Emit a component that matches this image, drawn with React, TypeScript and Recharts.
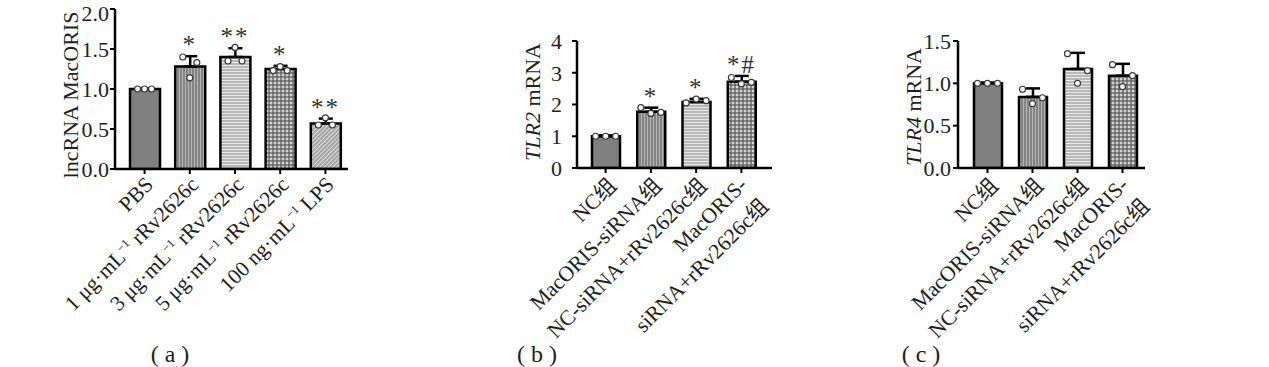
import { Bar, Cell, ComposedChart, ErrorBar, Scatter, XAxis, YAxis } from 'recharts'

const FONT = '"Liberation Serif", "Times New Roman", "Noto Sans CJK SC", serif'
const INK = '#231f20'

// panel (a)
const catsA = ['PBS', '1 μg·mL⁻¹ rRv2626c', '3 μg·mL⁻¹ rRv2626c', '5 μg·mL⁻¹ rRv2626c', '100 ng·mL⁻¹ LPS']
const meanA = [1.0, 1.28, 1.4, 1.25, 0.57]
const sdA = [0.01, 0.13, 0.11, 0.04, 0.06]
const leftA = [1.0, 1.4, 1.35, 1.23, 0.55]
const midA = [1.0, 1.14, 1.52, 1.28, 0.64]
const rightA = [1.0, 1.33, 1.35, 1.23, 0.55]
const sigA = ['', '*', '**', '*', '**']
const ticksA = [0, 0.5, 1.0, 1.5, 2.0]

// panel (b)
const catsB = ['NC组', 'MacORIS-siRNA组', 'NC-siRNA+rRv2626c组', 'MacORIS-\nsiRNA+rRv2626c组']
const meanB = [1.0, 1.77, 2.08, 2.72]
const sdB = [0.03, 0.13, 0.1, 0.18]
const leftB = [1.0, 1.9, 2.05, 2.85]
const midB = [1.0, 1.72, 2.17, 2.65]
const rightB = [1.0, 1.75, 2.12, 2.7]
const sigB = ['', '*', '*', '*#']
const ticksB = [0, 1, 2, 3, 4]

// panel (c)
const catsC = ['NC组', 'MacORIS-siRNA组', 'NC-siRNA+rRv2626c组', 'MacORIS-\nsiRNA+rRv2626c组']
const meanC = [1.0, 0.84, 1.17, 1.09]
const sdC = [0.01, 0.1, 0.19, 0.14]
const leftC = [1.0, 0.93, 1.35, 1.22]
const midC = [1.0, 0.76, 1.0, 0.96]
const rightC = [1.0, 0.83, 1.15, 1.09]
const sigC = ['', '', '', '']
const ticksC = [0, 0.5, 1.0, 1.5]

function rows(cats: string[], mean: number[], sd: number[], l: number[], m: number[], r: number[], sig: string[]) {
  return cats.map((name, i) => ({
    name,
    mean: mean[i],
    err: [0, sd[i]],
    l: l[i],
    m: m[i],
    r: r[i],
    top: mean[i] + sd[i],
    sig: sig[i],
  }))
}

function Patterns({ id }: { id: string }) {
  return (
    <defs>
      <pattern id={`${id}-v`} width="3" height="3" patternUnits="userSpaceOnUse">
        <rect width="3" height="3" fill="#b4b4b4" />
        <line x1="1" y1="0" x2="1" y2="3" stroke="#666" strokeWidth="1.2" />
      </pattern>
      <pattern id={`${id}-h`} width="3" height="3" patternUnits="userSpaceOnUse">
        <rect width="3" height="3" fill="#e8e8e8" />
        <line x1="0" y1="1" x2="3" y2="1" stroke="#999" strokeWidth="1.2" />
      </pattern>
      <pattern id={`${id}-g`} width="4" height="4" patternUnits="userSpaceOnUse">
        <rect width="4" height="4" fill="#d4d4d4" />
        <line x1="0" y1="1" x2="4" y2="1" stroke="#555" strokeWidth="1.2" />
        <line x1="1" y1="0" x2="1" y2="4" stroke="#555" strokeWidth="1.2" />
      </pattern>
      <pattern id={`${id}-d`} width="3" height="3" patternUnits="userSpaceOnUse" patternTransform="rotate(45)">
        <rect width="3" height="3" fill="#dcdcdc" />
        <line x1="1" y1="0" x2="1" y2="3" stroke="#777" strokeWidth="1.1" />
      </pattern>
    </defs>
  )
}

function withSup(s: string) {
  const parts = s.split('⁻¹')
  return parts.map((p, i) => (
    <tspan key={i}>
      {p}
      {i < parts.length - 1 && (
        <tspan dy={-8} fontSize={12}>
          {'−1'}
        </tspan>
      )}
      {i < parts.length - 1 && <tspan dy={8}>{' '}</tspan>}
    </tspan>
  ))
}

function XTick(props: any) {
  const { x, y, payload, first } = props
  const lines = String(payload.value).split('\n')
  const multi = lines.length > 1
  return (
    <g transform={`translate(${x},${y})`}>
      <text transform="rotate(-45)" textAnchor="end" fontSize={21.5} fontFamily={FONT} fill={INK}>
        {lines.map((ln, i) => (
          <tspan key={i} x={multi ? -3 : 0} dy={i === 0 ? (multi ? first - 4 : first) : 30}>
            {withSup(ln)}
          </tspan>
        ))}
      </text>
    </g>
  )
}

const dot = (dx: number) => (p: any) => (
  <circle cx={p.cx + dx} cy={p.cy} r={3} fill="#fff" stroke="#3a3a3a" strokeWidth={1.2} />
)

const star = (p: any) =>
  p.payload.sig ? (
    <text x={p.cx} y={p.cy - 3} textAnchor="middle" fontSize={25} fontFamily={FONT} fill="#333" letterSpacing={2}>
      {p.payload.sig}
    </text>
  ) : (
    <g />
  )

type PanelProps = {
  id: string
  data: any[]
  left: number
  width: number
  axisW: number
  top: number
  right: number
  bottom: number
  domain: [number, number]
  ticks: number[]
  fixed: number
  padL: number
  padR: number
  barSize: number
  tickGap: number
  first: number
  spread: number
}

function Panel(p: PanelProps) {
  const fills = ['#808080', `url(#${p.id}-v)`, `url(#${p.id}-h)`, `url(#${p.id}-g)`, `url(#${p.id}-d)`]
  return (
    <div style={{ position: 'absolute', left: p.left, top: 0 }}>
      <ComposedChart width={p.width} height={367} data={p.data} margin={{ top: p.top, right: p.right, bottom: 0, left: 0 }}>
        <Patterns id={p.id} />
        <XAxis
          dataKey="name"
          height={367 - p.bottom}
          padding={{ left: p.padL, right: p.padR }}
          axisLine={{ stroke: '#000', strokeWidth: 2.5 }}
          tickLine={{ stroke: '#000', strokeWidth: 2 }}
          tickSize={5}
          interval={0}
          tick={<XTick first={p.first} />}
        />
        <YAxis
          width={p.axisW}
          domain={p.domain}
          ticks={p.ticks}
          allowDataOverflow
          tickFormatter={(v: number) => v.toFixed(p.fixed)}
          axisLine={{ stroke: '#000', strokeWidth: 2.5 }}
          tickLine={{ stroke: '#000', strokeWidth: 2 }}
          tickSize={5}
          tickMargin={p.tickGap}
          tick={{ fontSize: 22, fontFamily: FONT, fill: INK }}
        />
        <Bar dataKey="mean" barSize={p.barSize} stroke="#000" strokeWidth={2.5} isAnimationActive={false}>
          {p.data.map((_, i) => (
            <Cell key={i} fill={fills[i]} />
          ))}
          <ErrorBar dataKey="err" direction="y" width={7} stroke="#000" strokeWidth={2.5} isAnimationActive={false} />
        </Bar>
        <Scatter dataKey="l" shape={dot(-p.spread)} isAnimationActive={false} />
        <Scatter dataKey="m" shape={dot(0)} isAnimationActive={false} />
        <Scatter dataKey="r" shape={dot(p.spread)} isAnimationActive={false} />
        <Scatter dataKey="top" shape={star} isAnimationActive={false} />
      </ComposedChart>
    </div>
  )
}

function YTitle({ x, y, italic, rest }: { x: number; y: number; italic?: string; rest: string }) {
  return (
    <text
      transform={`translate(${x},${y}) rotate(-90)`}
      textAnchor="middle"
      dominantBaseline="central"
      fontSize={22}
      fontFamily={FONT}
      fill={INK}
    >
      {italic && <tspan fontStyle="italic">{italic}</tspan>}
      {rest}
    </text>
  )
}

export default function App() {
  const dataA = rows(catsA, meanA, sdA, leftA, midA, rightA, sigA)
  const dataB = rows(catsB, meanB, sdB, leftB, midB, rightB, sigB)
  const dataC = rows(catsC, meanC, sdC, leftC, midC, rightC, sigC)
  return (
    <div style={{ position: 'absolute', left: 0, top: 0, width: 1269, height: 367, background: '#fff', overflow: 'hidden' }}>
      <Panel id="pa" data={dataA} left={0} width={400} axisW={115} top={9} right={52} bottom={169}
        domain={[0, 2]} ticks={ticksA} fixed={1} padL={7} padR={0} barSize={30} tickGap={1} first={14} spread={7} />
      <Panel id="pb" data={dataB} left={450} width={360} axisW={127} top={41} right={38} bottom={168}
        domain={[0, 4]} ticks={ticksB} fixed={0} padL={6} padR={8} barSize={28} tickGap={10} first={17} spread={10} />
      <Panel id="pc" data={dataC} left={850} width={330} axisW={108} top={41} right={35} bottom={168}
        domain={[0, 1.5]} ticks={ticksC} fixed={1} padL={7} padR={0} barSize={28} tickGap={2} first={17} spread={10} />
      <svg width={1269} height={367} style={{ position: 'absolute', left: 0, top: 0, pointerEvents: 'none' }}>
        <YTitle x={70} y={95} rest="lncRNA MacORIS" />
        <YTitle x={532} y={102} italic="TLR2" rest=" mRNA" />
        <YTitle x={913} y={107} italic="TLR4" rest=" mRNA" />
        <text x={170} y={362} textAnchor="middle" fontSize={24} fontFamily={FONT} fill={INK}>( a )</text>
        <text x={537} y={362} textAnchor="middle" fontSize={24} fontFamily={FONT} fill={INK}>( b )</text>
        <text x={921} y={362} textAnchor="middle" fontSize={24} fontFamily={FONT} fill={INK}>( c )</text>
      </svg>
    </div>
  )
}
